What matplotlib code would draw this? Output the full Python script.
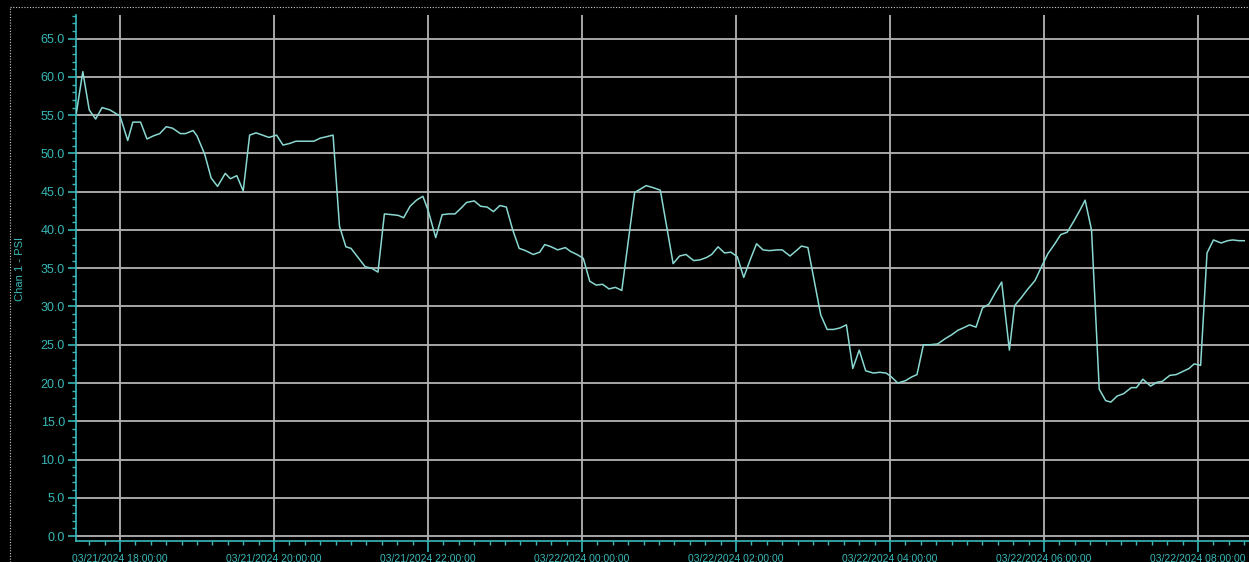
import matplotlib
matplotlib.use("Agg")
import matplotlib.pyplot as plt
import matplotlib.dates as mdates
from matplotlib.lines import Line2D
from datetime import datetime, timedelta

# minutes after 03/21/2024 18:00:00
minutes = [-34, -29, -24, -19, -14, -8, 0, 6, 10, 16, 21, 26, 31, 36, 41, 47, 51, 57, 60, 66,
           71, 76, 82, 86, 91, 96, 101, 106, 111, 116, 122, 127, 132, 137, 142, 147, 151, 156, 161, 166,
           171, 176, 180, 186, 191, 196, 201, 206, 212, 217, 221, 226, 231, 236, 240, 246, 251, 256, 261, 266,
           270, 276, 281, 286, 291, 296, 301, 306, 311, 316, 322, 327, 331, 336, 341, 347, 351, 356, 361, 366,
           371, 376, 381, 386, 391, 401, 406, 410, 416, 421, 431, 436, 441, 447, 452, 457, 461, 466, 471, 476,
           481, 486, 491, 496, 501, 506, 512, 516, 522, 527, 531, 536, 546, 551, 556, 561, 566, 571, 576, 581,
           587, 592, 597, 601, 606, 612, 617, 621, 626, 631, 637, 643, 648, 653, 657, 662, 667, 672, 677, 682,
           687, 693, 697, 702, 707, 713, 718, 723, 728, 733, 738, 743, 748, 752, 757, 763, 768, 772, 777, 782,
           788, 792, 797, 803, 808, 812, 818, 823, 828, 833, 837, 842, 847, 852, 858, 863, 867, 872, 876]

psi = [55.3, 60.7, 55.7, 54.5, 56.0, 55.7, 54.9, 51.7, 54.1, 54.1, 51.9, 52.3, 52.6, 53.5, 53.3, 52.6, 52.6, 53.0, 52.3, 49.9,
       46.8, 45.7, 47.4, 46.7, 47.1, 45.1, 52.4, 52.7, 52.4, 52.1, 52.4, 51.1, 51.3, 51.6, 51.6, 51.6, 51.6, 52.0, 52.2, 52.4,
       40.5, 37.8, 37.6, 36.3, 35.2, 35.0, 34.5, 42.1, 42.0, 41.9, 41.6, 43.1, 43.9, 44.4, 42.6, 39.0, 42.0, 42.1, 42.1, 42.9,
       43.6, 43.8, 43.1, 43.0, 42.4, 43.2, 43.0, 40.0, 37.6, 37.3, 36.8, 37.1, 38.1, 37.8, 37.4, 37.7, 37.2, 36.8, 36.3, 33.3,
       32.8, 32.9, 32.3, 32.5, 32.1, 44.9, 45.4, 45.8, 45.5, 45.2, 35.6, 36.6, 36.8, 36.0, 36.1, 36.4, 36.8, 37.8, 37.0, 37.1,
       36.5, 33.8, 36.1, 38.2, 37.4, 37.3, 37.4, 37.4, 36.6, 37.3, 37.9, 37.7, 28.9, 27.0, 27.0, 27.2, 27.6, 21.9, 24.3, 21.6,
       21.3, 21.4, 21.3, 20.8, 20.0, 20.3, 20.8, 21.1, 25.0, 25.0, 25.1, 25.8, 26.3, 26.9, 27.2, 27.6, 27.3, 29.8, 30.3, 31.8,
       33.2, 24.3, 30.1, 31.1, 32.2, 33.4, 35.2, 36.9, 38.1, 39.4, 39.7, 41.1, 42.6, 43.9, 40.0, 19.2, 17.7, 17.5, 18.3, 18.6,
       19.4, 19.4, 20.5, 19.6, 20.1, 20.2, 21.0, 21.1, 21.5, 21.9, 22.5, 22.3, 37.0, 38.7, 38.3, 38.6, 38.7, 38.6, 38.6]

y_ticks = [0, 5, 10, 15, 20, 25, 30, 35, 40, 45, 50, 55, 60, 65]

base = datetime(2024, 3, 21, 18, 0)
times = [base + timedelta(minutes=m) for m in minutes]

TEAL = "#38b8b8"
LINE = "#8ad8d2"
GRID = "#b4b4b4"
fonts = ["Liberation Sans", "DejaVu Sans"]

fig = plt.figure(figsize=(12.49, 5.62), dpi=100, facecolor="black")
ax = fig.add_axes([76 / 1249, 21 / 562, 1 - 76 / 1249, 526 / 562])
ax.set_facecolor("black")

ax.plot(times, psi, color=LINE, linewidth=1.1, zorder=3)

ax.set_ylim(-0.65, 68.1)
ax.set_xlim(base - timedelta(minutes=34.3), base + timedelta(minutes=879.7))

ax.set_yticks(y_ticks)
ax.set_yticklabels([f"{v:.1f}" for v in y_ticks])
ax.yaxis.set_minor_locator(matplotlib.ticker.MultipleLocator(1))
ax.xaxis.set_major_locator(mdates.HourLocator(byhour=range(0, 24, 2)))
ax.xaxis.set_minor_locator(mdates.MinuteLocator(byminute=[0, 12, 24, 36, 48]))
ax.xaxis.set_major_formatter(mdates.DateFormatter("%m/%d/%Y %H:%M:%S"))

ax.grid(True, which="major", color=GRID, linewidth=1.3)

for side in ["top", "right"]:
    ax.spines[side].set_visible(False)
for side in ["left", "bottom"]:
    ax.spines[side].set_color(TEAL)
    ax.spines[side].set_linewidth(1.2)

ax.tick_params(axis="both", which="major", colors=TEAL, length=6, width=1.2, pad=2)
ax.tick_params(axis="x", which="major", length=8, pad=1)
ax.tick_params(axis="both", which="minor", colors=TEAL, length=3, width=1)
for lab in ax.get_yticklabels():
    lab.set_family(fonts)
    lab.set_fontsize(9)
for lab in ax.get_xticklabels():
    lab.set_family(fonts)
    lab.set_fontsize(7.5)

ax.set_ylabel("Chan 1 - PSI", color=TEAL, fontsize=8, family=fonts)
ax.yaxis.set_label_coords(-0.0435, 0.517)

# dotted panel frame
fig.add_artist(Line2D([10 / 1249, 10 / 1249], [0, 1 - 7 / 562], transform=fig.transFigure,
                      color="#cfcfcf", linestyle=(0, (1, 1.5)), linewidth=0.8))
fig.add_artist(Line2D([10 / 1249, 1], [1 - 7 / 562, 1 - 7 / 562], transform=fig.transFigure,
                      color="#cfcfcf", linestyle=(0, (1, 1.5)), linewidth=0.8))

fig.savefig("out.png", dpi=100, facecolor="black")
